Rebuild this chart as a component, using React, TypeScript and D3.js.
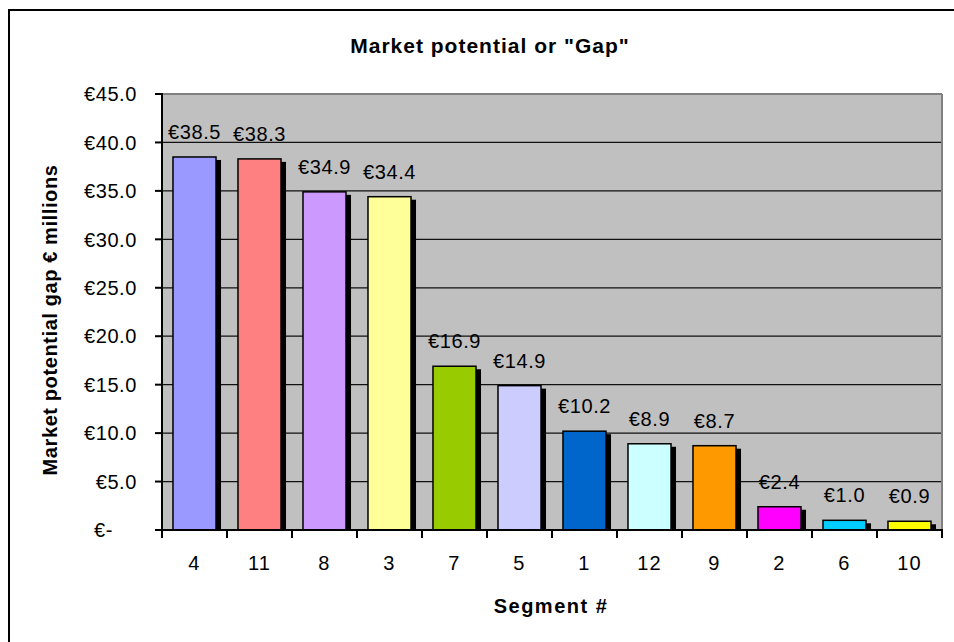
import React from "react";
import * as d3 from "d3";

const segments = ["4", "11", "8", "3", "7", "5", "1", "12", "9", "2", "6", "10"];
const gapValues = [38.5, 38.3, 34.9, 34.4, 16.9, 14.9, 10.2, 8.9, 8.7, 2.4, 1.0, 0.9];
const barColors = ["#9999FF", "#FF8080", "#CC99FF", "#FFFF99", "#99CC00", "#CCCCFF", "#0066CC", "#CCFFFF", "#FF9900", "#FF00FF", "#00CCFF", "#FFFF00"];
const yTickValues = [0, 5, 10, 15, 20, 25, 30, 35, 40, 45];
const yTickLabels = ["€-", "€5.0", "€10.0", "€15.0", "€20.0", "€25.0", "€30.0", "€35.0", "€40.0", "€45.0"];

const W = 954;
const H = 642;
const plot = { left: 162, right: 942, top: 94, bottom: 530 };
const FONT = "'Liberation Sans', Arial, sans-serif";

export default function App() {
  const x = d3
    .scaleBand<string>()
    .domain(segments)
    .range([plot.left, plot.right])
    .paddingInner(0.338)
    .paddingOuter(0.169);
  const y = d3.scaleLinear().domain([0, 45]).range([plot.bottom, plot.top]);
  const step = x.step();
  const boundaries = d3.range(segments.length + 1).map((i) => plot.left + i * step);

  return (
    <svg
      width={W}
      height={H}
      style={{ position: "absolute", left: 0, top: 0, background: "#fff" }}
      fontFamily={FONT}
    >
      {/* outer frame */}
      <path d={`M9,${H} L9,10 L${W},10`} fill="none" stroke="#000" strokeWidth={2} />

      {/* title */}
      <text x={490} y={53} textAnchor="middle" fontWeight="bold" fontSize={21} letterSpacing={1}>
        Market potential or "Gap"
      </text>

      {/* plot background */}
      <rect x={plot.left} y={plot.top} width={plot.right - plot.left} height={plot.bottom - plot.top} fill="#C0C0C0" />

      {/* gridlines */}
      {yTickValues.filter((v) => v > 0 && v < 45).map((v) => (
        <line key={v} x1={plot.left} x2={plot.right} y1={y(v)} y2={y(v)} stroke="#111" strokeWidth={1.3} />
      ))}
      {/* plot top & right border */}
      <line x1={plot.left} x2={plot.right} y1={plot.top} y2={plot.top} stroke="#808080" strokeWidth={2} />
      <line x1={plot.right} x2={plot.right} y1={plot.top} y2={plot.bottom} stroke="#808080" strokeWidth={2} />

      {/* bars */}
      {segments.map((s, i) => {
        const bx = x(s)!;
        const bw = x.bandwidth();
        const by = y(gapValues[i]);
        const bh = plot.bottom - by;
        return (
          <g key={s}>
            <rect x={bx + 5} y={by + 3} width={bw} height={Math.max(0, bh - 3)} fill="#000" />
            <rect x={bx} y={by} width={bw} height={bh} fill={barColors[i]} stroke="#000" strokeWidth={1.5} />
            <text x={bx + bw / 2} y={by - 18} textAnchor="middle" fontSize={20} letterSpacing={0.6}>
              {"€" + gapValues[i].toFixed(1)}
            </text>
          </g>
        );
      })}

      {/* axes */}
      <line x1={plot.left} x2={plot.left} y1={plot.top - 1} y2={plot.bottom + 8} stroke="#000" strokeWidth={2} />
      <line x1={plot.left - 7} x2={plot.right + 1} y1={plot.bottom} y2={plot.bottom} stroke="#000" strokeWidth={2} />
      {yTickValues.map((v, i) => (
        <g key={v}>
          <line x1={plot.left - 7} x2={plot.left} y1={y(v)} y2={y(v)} stroke="#000" strokeWidth={2} />
          <text
            x={v === 0 ? 113 : 137}
            y={y(v)}
            dy="0.36em"
            textAnchor="end"
            fontSize={20}
            letterSpacing={0.6}
          >
            {yTickLabels[i]}
          </text>
        </g>
      ))}
      {boundaries.map((bx, i) => (
        <line key={i} x1={bx} x2={bx} y1={plot.bottom} y2={plot.bottom + 8} stroke="#000" strokeWidth={2} />
      ))}
      {segments.map((s) => (
        <text key={s} x={x(s)! + x.bandwidth() / 2} y={570} textAnchor="middle" fontSize={20} letterSpacing={1.2}>
          {s}
        </text>
      ))}

      {/* axis titles */}
      <text x={551} y={613} textAnchor="middle" fontWeight="bold" fontSize={20} letterSpacing={1.5}>
        Segment #
      </text>
      <text
        transform={`translate(57,320) rotate(-90)`}
        textAnchor="middle"
        fontWeight="bold"
        fontSize={20}
        letterSpacing={0.6}
      >
        Market potential gap € millions
      </text>
    </svg>
  );
}
